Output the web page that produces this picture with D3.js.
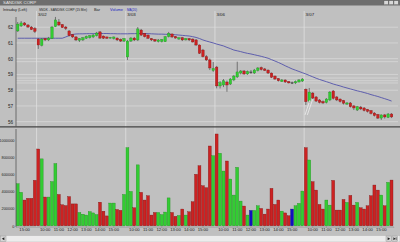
<!DOCTYPE html>
<html><head><meta charset="utf-8">
<script src="https://cdn.jsdelivr.net/npm/d3@7"></script>
<style>html,body{margin:0;padding:0;background:#c0c0c0;overflow:hidden}svg{display:block}</style>
</head><body>
<svg id="c" width="400" height="242"></svg>
<script>
// ---------- data ----------
const days = ["3/01","3/02","3/03","3/06","3/07"];
const sessionStart = ["14:30","09:30","09:30","09:30","09:30"];
const barsPerDay = [6,26,26,26,26];
const priceTicks = [56,57,58,59,60,61,62];
const volumeTicks = [0,200000,400000,600000,800000,1000000];
const timeTickHours = [10,11,12,13,14,15];

const open = [61.76,62.08,62.27,62.14,62.01,61.92,
61.25,60.84,61.28,61.19,61.28,62.04,62.33,62.17,62.01,61.76,61.54,61.38,61.16,61.19,61.30,61.33,61.38,61.46,61.70,61.44,61.38,61.30,61.28,61.31,61.22,61.12,
60.11,61.12,61.31,61.19,61.82,61.61,61.50,61.28,61.22,61.09,61.09,61.08,61.40,61.57,61.41,61.25,61.33,61.19,61.28,61.25,61.19,60.87,60.55,60.13,59.92,59.25,
59.47,58.27,58.33,58.52,58.39,58.65,58.84,59.09,59.22,59.03,59.16,59.09,59.25,59.44,59.35,59.28,59.09,58.90,58.74,58.55,58.65,58.55,58.48,58.46,58.52,58.58,
58.06,57.31,57.82,57.57,57.38,57.28,57.22,57.38,57.95,57.57,57.44,57.35,57.12,57.19,57.00,56.74,56.93,56.87,56.78,56.71,56.55,56.46,56.23,56.43,56.27,56.49];
const high = [62.33,62.39,62.33,62.20,62.08,62.01,
61.31,61.31,61.31,61.38,62.08,62.65,62.52,62.20,62.08,61.82,61.57,61.44,61.31,61.38,61.47,61.50,61.57,61.70,61.76,61.47,61.41,61.38,61.41,61.35,61.28,61.31,
61.19,61.38,61.38,62.01,61.89,61.63,61.54,61.31,61.25,61.25,61.25,61.44,61.70,61.60,61.44,61.38,61.38,61.31,61.31,61.28,61.25,60.90,60.62,60.23,60.01,59.79,
59.54,58.58,58.71,58.62,58.77,58.97,59.81,59.28,59.28,59.25,59.28,59.35,59.47,59.50,59.41,59.31,59.12,58.93,58.77,58.71,58.68,58.58,58.55,58.62,58.71,58.77,
58.11,58.14,57.88,57.63,57.44,57.35,57.50,57.95,58.01,57.63,57.47,57.38,57.25,57.25,57.06,57.00,57.00,56.93,56.81,56.74,56.61,56.49,56.46,56.49,56.55,56.55];
const low = [61.70,62.01,62.08,61.95,61.82,61.63,
60.62,60.78,61.12,61.12,61.25,62.01,62.08,61.95,61.82,61.41,61.31,61.12,61.06,61.12,61.25,61.28,61.31,61.41,61.25,61.25,61.25,61.28,61.22,61.12,61.06,61.06,
59.92,61.06,61.12,61.12,61.44,61.35,61.25,61.12,61.06,61.03,61.03,61.06,61.35,61.31,61.28,61.19,61.12,61.16,61.12,61.03,60.81,60.30,60.08,59.85,59.28,59.16,
58.12,58.11,58.20,57.90,58.33,58.58,58.77,59.00,58.97,58.97,59.03,59.03,59.19,59.25,59.22,59.03,58.77,58.65,58.55,58.52,58.46,58.43,58.39,58.39,58.49,58.52,
57.06,57.19,57.44,57.25,57.16,57.12,57.16,57.31,57.41,57.31,57.22,57.09,57.06,56.90,56.74,56.68,56.74,56.65,56.58,56.46,56.33,56.17,56.11,56.20,56.23,56.23];
const close = [62.20,62.27,62.14,62.01,61.85,61.73,
60.87,61.25,61.19,61.31,62.01,62.46,62.14,61.98,61.92,61.47,61.38,61.19,61.28,61.33,61.42,61.46,61.50,61.63,61.31,61.30,61.30,61.35,61.38,61.19,61.12,61.28,
61.12,61.31,61.19,61.89,61.50,61.40,61.30,61.19,61.12,61.19,61.22,61.40,61.61,61.38,61.31,61.33,61.19,61.28,61.19,61.06,60.87,60.34,60.13,59.92,59.41,59.38,
58.27,58.48,58.60,58.33,58.71,58.90,59.16,59.22,59.03,59.19,59.16,59.28,59.41,59.31,59.25,59.09,58.82,58.71,58.60,58.65,58.52,58.46,58.48,58.55,58.65,58.71,
57.27,57.88,57.50,57.31,57.22,57.19,57.44,57.88,57.48,57.38,57.28,57.17,57.19,56.95,56.87,56.95,56.81,56.71,56.65,56.52,56.39,56.23,56.43,56.30,56.49,56.30];
const volume = [490000,390000,300000,320000,320000,530000,
895000,780000,335000,335000,515000,725000,365000,245000,235000,340000,255000,255000,155000,135000,125000,165000,150000,130000,275000,170000,115000,265000,265000,190000,180000,365000,
910000,400000,210000,710000,390000,300000,350000,125000,155000,155000,130000,160000,325000,155000,110000,120000,195000,125000,163000,280000,600000,700000,467000,444000,930000,817000,
1070000,845000,638000,755000,545000,358000,681000,288000,230000,125000,179000,179000,233000,202000,136000,195000,436000,249000,300000,171000,150000,117000,195000,233000,261000,405000,
910000,767000,514000,416000,249000,195000,300000,241000,529000,183000,183000,307000,272000,354000,241000,272000,210000,195000,233000,350000,475000,416000,358000,233000,506000,533000];
const ma20 = [61.30,61.30,61.30,61.30,61.30,61.30,61.30,61.30,61.30,61.30,61.30,61.30,61.30,61.30,
61.38,61.47,61.54,
61.57,61.58,61.58,61.59,61.59,61.59,61.60,61.60,61.60,61.60,61.59,61.59,61.58,61.58,61.58,61.58,61.59,61.59,61.60,61.60,61.60,61.59,61.58,61.57,61.56,61.56,61.55,
61.54,61.53,61.52,61.50,61.48,61.46,61.44,61.40,61.35,61.28,61.19,61.12,61.06,61.00,
60.93,60.87,60.81,60.72,60.64,60.55,60.50,60.45,60.39,60.34,60.30,60.25,60.20,60.15,60.09,60.03,59.94,59.85,59.76,59.66,59.55,59.45,59.35,59.27,59.19,59.11,
59.03,58.94,58.85,58.76,58.68,58.61,58.54,58.47,58.39,58.33,58.27,58.20,58.14,58.08,58.02,57.96,57.91,57.85,57.79,57.72,57.66,57.60,57.53,57.46,57.39,57.31];
const extraLines = [59.81,58.77,58.60,58.46];
// user-drawn trend lines: [barPos1, price1, barPos2, price2]
const trendLines = [[84.26,56.43,85.71,57.38],[84.93,56.43,86.50,57.42]];

// ---------- layout ----------
const W = 400, H = 242;
const svg = d3.select("#c");
const N = open.length;
const X0 = 16, X1 = 393.3;
const x = d3.scaleBand().domain(d3.range(N)).range([X0, X1]).padding(0);
const xc = d3.scaleLinear().domain([0, N]).range([X0, X1]);
const yP = d3.scaleLinear().domain([56, 62]).range([121.7, 27.2]);
const yV = d3.scaleLinear().domain([0, 1000000]).range([225.8, 140]);
const FONT = "'Liberation Sans', Arial, sans-serif";

// bar times
const bars = [];
days.forEach((d, k) => {
  const [h, m] = sessionStart[k].split(":").map(Number);
  for (let j = 0; j < barsPerDay[k]; j++) {
    const t = h * 60 + m + 15 * j;
    bars.push({ day: d, k, j, hh: Math.floor(t / 60), mm: t % 60 });
  }
});
const dayStarts = bars.map((b, i) => (b.j === 0 && b.k > 0) ? i : -1).filter(i => i >= 0);

svg.append("rect").attr("width", W).attr("height", H).attr("fill", "#c0c0c0");

// title bar
svg.append("rect").attr("x", 0).attr("y", 0).attr("width", W).attr("height", 5.5).attr("fill", "#6e6e6e");
svg.append("text").attr("x", 3).attr("y", 4.4).attr("font-size", 4.4).attr("font-family", FONT)
  .attr("fill", "#e6e6e6").text("SANDISK CORP");
[384, 389, 394].forEach((bx, i) => {
  svg.append("rect").attr("x", bx).attr("y", 0.8).attr("width", 4.2).attr("height", 3.8)
    .attr("fill", "#d8d8d8").attr("stroke", "#555").attr("stroke-width", 0.3);
});

// header: each item squeezed horizontally to its target width
const hdrItems = [
  { x: 3, w: 24, t: "Intraday (Left)", c: "#1a1a1a" },
  { x: 39, w: 48, t: "SNDK - SANDISK CORP (15 Min)", c: "#1a1a1a" },
  { x: 94, w: 6, t: "Bar", c: "#1a1a1a" },
  { x: 110, w: 13, t: "Volume", c: "#2020c0" },
  { x: 127, w: 10, t: "MA(20)", c: "#2020c0" }
];
svg.append("g").selectAll("text").data(hdrItems).join("text")
  .attr("x", 0).attr("y", 0).attr("font-size", 4.4).attr("font-family", FONT)
  .attr("fill", d => d.c).text(d => d.t)
  .each(function (d) {
    const nat = this.getComputedTextLength() || d.w;
    d3.select(this).attr("transform", `translate(${d.x},10.6) scale(${d.w / nat},1)`);
  });

// day labels
svg.append("g").selectAll("text").data(dayStarts).join("text")
  .attr("x", i => x(i) + 1.5).attr("y", 15.6).attr("font-size", 4.4).attr("font-family", FONT)
  .attr("fill", "#1a1a1a").text(i => bars[i].day);

// price gridlines
svg.append("g").selectAll("line").data(priceTicks.concat(extraLines)).join("line")
  .attr("x1", X0).attr("x2", 398).attr("y1", d => yP(d)).attr("y2", d => yP(d))
  .attr("stroke", "#d8d8d8").attr("stroke-width", 0.8);

// day separators
svg.append("g").selectAll("line").data(dayStarts).join("line")
  .attr("x1", i => x(i)).attr("x2", i => x(i)).attr("y1", 11).attr("y2", 227)
  .attr("stroke", "#e0e0e0").attr("stroke-width", 0.8);

// price axis
const ax = svg.append("g").attr("transform", `translate(${X0},0)`)
  .call(d3.axisLeft(yP).tickValues(priceTicks).tickSize(0).tickPadding(3).tickFormat(d3.format("d")));
ax.select(".domain").remove();
ax.selectAll("text").attr("font-size", 4.6).attr("font-family", FONT).attr("fill", "#222");
svg.append("line").attr("x1", X0).attr("x2", X0).attr("y1", 17).attr("y2", 126.5).attr("stroke", "#555").attr("stroke-width", 0.8);

// MA line
svg.append("path").datum(ma20)
  .attr("d", d3.line().x((d, i) => x(i) + x.bandwidth() / 2).y(d => yP(d)))
  .attr("fill", "none").attr("stroke", "#5252aa").attr("stroke-width", 0.9);

// candles
const colorOf = i => close[i] > open[i] ? "g" : (close[i] < open[i] ? "r" : "b");
const fillC = { g: "#33cc33", r: "#cc2222", b: "#1010c0" };
const strokeC = { g: "#1c8a1c", r: "#7a1010", b: "#0a0a80" };
const cg = svg.append("g");
cg.selectAll("line").data(d3.range(N)).join("line")
  .attr("x1", i => x(i) + x.bandwidth() / 2).attr("x2", i => x(i) + x.bandwidth() / 2)
  .attr("y1", i => yP(high[i])).attr("y2", i => yP(low[i]))
  .attr("stroke", "#3a3a3a").attr("stroke-width", 0.6);
cg.selectAll("rect").data(d3.range(N)).join("rect")
  .attr("x", i => x(i) + x.bandwidth() / 2 - 1.25).attr("width", 2.5)
  .attr("y", i => yP(Math.max(open[i], close[i])))
  .attr("height", i => Math.max(0.7, Math.abs(yP(open[i]) - yP(close[i]))))
  .attr("fill", i => colorOf(i) === "b" ? "#3a3a3a" : fillC[colorOf(i)])
  .attr("stroke", i => colorOf(i) === "b" ? "#3a3a3a" : strokeC[colorOf(i)]).attr("stroke-width", 0.3);

// trend lines
svg.append("g").selectAll("line").data(trendLines).join("line")
  .attr("x1", d => xc(d[0])).attr("y1", d => yP(d[1])).attr("x2", d => xc(d[2])).attr("y2", d => yP(d[3]))
  .attr("stroke", "#f4f4f4").attr("stroke-width", 0.7);

// panel separator
svg.append("line").attr("x1", 0).attr("x2", W).attr("y1", 126.9).attr("y2", 126.9).attr("stroke", "#444").attr("stroke-width", 1.3);

// volume bars
svg.append("g").selectAll("rect").data(d3.range(N)).join("rect")
  .attr("x", i => x(i) + 0.2).attr("width", x.bandwidth() - 0.5)
  .attr("y", i => yV(volume[i])).attr("height", i => yV(0) - yV(volume[i]))
  .attr("fill", i => fillC[colorOf(i)]).attr("stroke", i => strokeC[colorOf(i)]).attr("stroke-width", 0.35);

// volume axis
const vx = svg.append("g").attr("transform", `translate(${X0},0)`)
  .call(d3.axisLeft(yV).tickValues(volumeTicks).tickSize(0).tickPadding(1.5).tickFormat(d3.format("d")));
vx.select(".domain").remove();
vx.selectAll("text").attr("font-size", 3.9).attr("font-family", FONT).attr("fill", "#222");
svg.append("line").attr("x1", X0).attr("x2", X0).attr("y1", 129).attr("y2", 227).attr("stroke", "#555").attr("stroke-width", 0.8);

// time axis
const tIdx = d3.range(N).filter(i => bars[i].mm === 0 && timeTickHours.includes(bars[i].hh));
const tx = svg.append("g").attr("transform", "translate(0,226.5)")
  .call(d3.axisBottom(x).tickValues(tIdx).tickSize(1).tickPadding(1)
    .tickFormat(i => String(bars[i].hh).padStart(2, "0") + ":00"));
tx.select(".domain").attr("stroke", "#777").attr("stroke-width", 0.5);
tx.selectAll(".tick line").attr("stroke", "#666").attr("stroke-width", 0.5);
tx.selectAll("text").attr("font-size", 4.2).attr("font-family", FONT).attr("fill", "#222");

// scrollbar
svg.append("rect").attr("x", 0).attr("y", 235.5).attr("width", W).attr("height", 6.5).attr("fill", "#ececec").attr("stroke", "#a8a8a8").attr("stroke-width", 0.4);
svg.append("rect").attr("x", 0.5).attr("y", 236).attr("width", 5.5).attr("height", 5.5).attr("fill", "#d6d6d6").attr("stroke", "#888").attr("stroke-width", 0.4);
svg.append("path").attr("d", "M1.8,238.75 L4.4,237.3 L4.4,240.2 Z").attr("fill", "#222");
[386, 392].forEach(bx => svg.append("rect").attr("x", bx).attr("y", 236).attr("width", 5.5).attr("height", 5.5).attr("fill", "#d6d6d6").attr("stroke", "#888").attr("stroke-width", 0.4));
svg.append("path").attr("d", "M387.6,237.3 L390.2,238.75 L387.6,240.2 Z").attr("fill", "#222");
svg.append("path").attr("d", "M393.4,237.3 L395.6,238.75 L393.4,240.2 Z M395.8,237.3 L396.4,237.3 L396.4,240.2 L395.8,240.2 Z").attr("fill", "#222");
</script>
</body></html>
